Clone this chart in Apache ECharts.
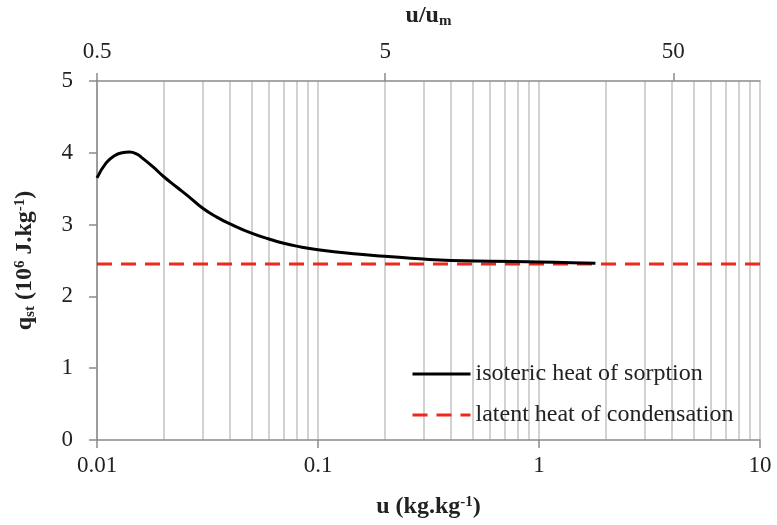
<!DOCTYPE html>
<html>
<head>
<meta charset="utf-8">
<title>Isosteric heat of sorption</title>
<script src="https://cdn.jsdelivr.net/npm/echarts@6/dist/echarts.min.js"></script>
<style>
  html, body { margin: 0; padding: 0; background: #ffffff; }
  #chart { width: 777px; height: 525px; }
</style>
</head>
<body>
<div id="chart"></div>
<script>
// Moisture content u (kg/kg) and isosteric heat of sorption q_st (10^6 J/kg)
const moistureU = [0.010, 0.011, 0.012, 0.013, 0.014, 0.015, 0.016, 0.018, 0.020, 0.023,
                   0.026, 0.030, 0.035, 0.040, 0.050, 0.060, 0.070, 0.080, 0.100, 0.150,
                   0.200, 0.300, 0.400, 0.600, 1.000, 1.400, 1.800];
const heatQst   = [3.65, 3.86, 3.96, 4.00, 4.01, 3.99, 3.93, 3.80, 3.67, 3.52,
                   3.39, 3.23, 3.10, 3.01, 2.88, 2.80, 2.74, 2.70, 2.65, 2.59,
                   2.56, 2.52, 2.50, 2.49, 2.48, 2.47, 2.46];

// Latent heat of condensation of water, constant over the range
const latentU = [0.01, 10];
const latentQ = [2.45, 2.45];

// Tick labels
const bottomTickLabels = [0.01, 0.1, 1, 10];
const topTickLabels = [0.5, 5, 50];          // u/u_m
const topAxisRange = [0.5, 100];             // u/u_m extent of the secondary axis
const yTicks = [0, 1, 2, 3, 4, 5];

// Vertical grid lines at every 1..9 step of each decade
const gridValues = [];
[0.01, 0.1, 1].forEach(function (dec) {
  for (let k = 1; k <= 9; k++) gridValues.push(+(dec * k).toPrecision(3));
});
gridValues.push(10);

const FONT = '"Liberation Serif", "Times New Roman", serif';
const TEXT = '#222222';
const AXIS = '#8a8a8a';
const GRID = '#c3c3c3';

const titleRich = {
  b:   { fontFamily: FONT, fontWeight: 'bold', fontSize: 24, color: TEXT, lineHeight: 30 },
  sub: { fontFamily: FONT, fontWeight: 'bold', fontSize: 15, color: TEXT, lineHeight: 30, verticalAlign: 'bottom', padding: [0, 0, 2, 0] },
  sup: { fontFamily: FONT, fontWeight: 'bold', fontSize: 15, color: TEXT, lineHeight: 30, verticalAlign: 'top', padding: [3, 0, 0, 0] }
};

const chart = echarts.init(document.getElementById('chart'), null, { renderer: 'canvas' });

const log10 = Math.log10;

chart.setOption({
  animation: false,
  backgroundColor: '#ffffff',
  grid: { left: 97, right: 17, top: 81, bottom: 85, containLabel: false, outerBoundsMode: 'none' },
  legend: {
    orient: 'vertical',
    left: 406,
    top: 357,
    itemWidth: 58,
    itemHeight: 14,
    itemGap: 17,
    itemStyle: { opacity: 0 },
    lineStyle: { width: 3 },
    textStyle: { fontFamily: FONT, fontSize: 24, color: TEXT },
    data: ['isoteric heat of sorption', 'latent heat of condensation']
  },
  xAxis: [
    {
      // main moisture-content axis (logarithmic)
      type: 'log',
      logBase: 10,
      min: 0.01,
      max: 10,
      position: 'bottom',
      name: '{b|u (kg.kg}{sup|-1}{b|)}',
      nameLocation: 'middle',
      nameGap: 52,
      nameTextStyle: { rich: titleRich },
      axisLine: { show: true, onZero: false, lineStyle: { color: AXIS, width: 1.5 } },
      axisTick: { show: true, inside: false, length: 8, lineStyle: { color: AXIS, width: 1.5 } },
      axisLabel: {
        margin: 14,
        fontFamily: FONT, fontSize: 23, color: TEXT,
        formatter: function (v) {
          const hit = bottomTickLabels.find(function (t) { return Math.abs(log10(t) - log10(v)) < 1e-6; });
          return hit === undefined ? '' : String(hit);
        }
      },
      splitLine: { show: false },
      minorTick: { show: false }
    },
    {
      // grid-line carrier in log10 space
      type: 'value',
      min: -2,
      max: 1,
      position: 'bottom',
      axisLine: { show: false, onZero: false },
      axisLabel: { show: false },
      axisTick: { show: false, customValues: gridValues.map(log10) },
      splitLine: { show: true, lineStyle: { color: GRID, width: 1.5 } }
    },
    {
      // secondary u/u_m axis, drawn in log10 space
      type: 'value',
      min: 0,
      max: log10(topAxisRange[1] / topAxisRange[0]),
      position: 'top',
      name: '{b|u/u}{sub|m}',
      nameLocation: 'middle',
      nameGap: 50,
      nameTextStyle: { rich: titleRich },
      axisLine: { show: true, onZero: false, lineStyle: { color: AXIS, width: 1.5 } },
      axisTick: {
        show: true, inside: false, length: 8,
        lineStyle: { color: AXIS, width: 1.5 },
        customValues: topTickLabels.map(function (t) { return log10(t / topAxisRange[0]); })
      },
      axisLabel: {
        margin: 18,
        fontFamily: FONT, fontSize: 23, color: TEXT,
        customValues: topTickLabels.map(function (t) { return log10(t / topAxisRange[0]); }),
        formatter: function (v) {
          return String(+(topAxisRange[0] * Math.pow(10, v)).toPrecision(3));
        }
      },
      splitLine: { show: false }
    }
  ],
  yAxis: [{
    type: 'value',
    min: 0,
    max: 5,
    interval: 1,
    name: '{b|q}{sub|st}{b| (10}{sup|6}{b| J.kg}{sup|-1}{b|)}',
    nameLocation: 'middle',
    nameGap: 57,
    nameRotate: 90,
    nameTextStyle: { rich: titleRich },
    axisLine: { show: true, onZero: false, lineStyle: { color: AXIS, width: 1.5 } },
    axisTick: { show: true, inside: false, length: 8, lineStyle: { color: AXIS, width: 1.5 } },
    axisLabel: {
      margin: 24,
      fontFamily: FONT, fontSize: 23, color: TEXT,
      formatter: function (v) { return yTicks.indexOf(v) >= 0 ? String(v) : ''; }
    },
    splitLine: { show: false }
  }],
  series: [
    {
      name: 'isoteric heat of sorption',
      type: 'line',
      xAxisIndex: 0,
      yAxisIndex: 0,
      smooth: 0.5,
      showSymbol: false,
      symbol: 'none',
      color: '#000000',
      lineStyle: { color: '#000000', width: 3 },
      data: moistureU.map(function (u, i) { return [u, heatQst[i]]; }),
      z: 3
    },
    {
      name: 'latent heat of condensation',
      type: 'line',
      xAxisIndex: 0,
      yAxisIndex: 0,
      showSymbol: false,
      symbol: 'none',
      color: '#f0281c',
      lineStyle: { color: '#f0281c', width: 3, type: [15, 9] },
      data: latentU.map(function (u, i) { return [u, latentQ[i]]; }),
      z: 2
    }
  ]
});
</script>
</body>
</html>
